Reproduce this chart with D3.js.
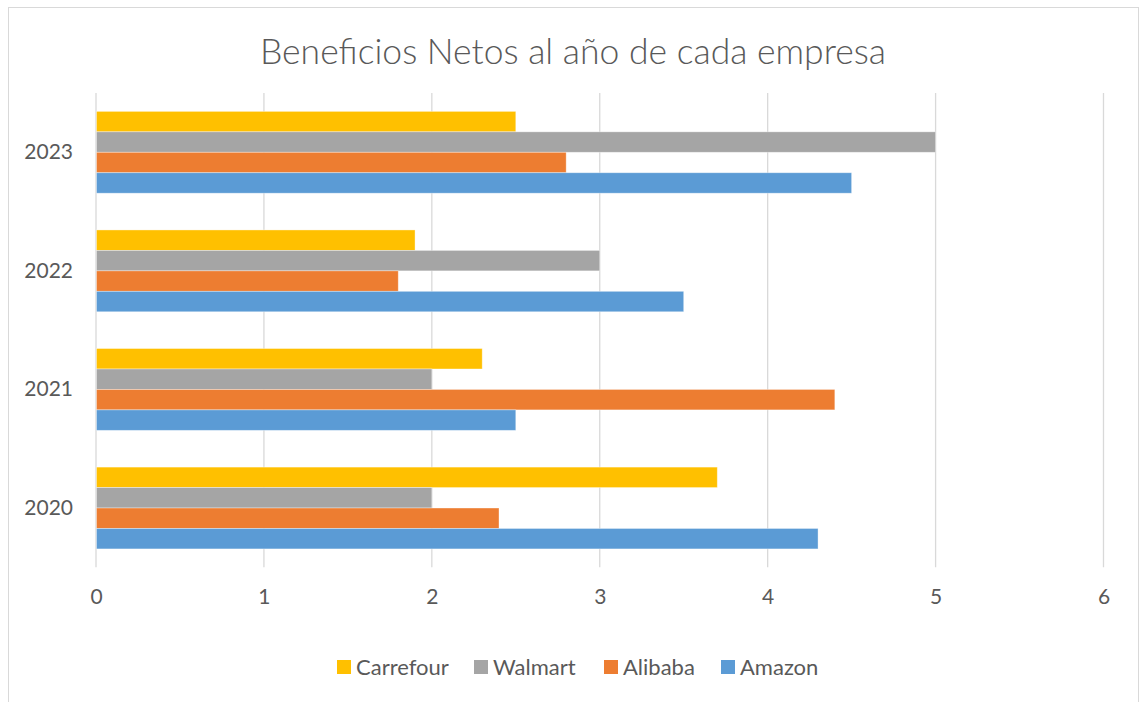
<!DOCTYPE html>
<html><head><meta charset="utf-8">
<script src="https://cdn.jsdelivr.net/npm/d3@7"></script>
<style>html,body{margin:0;padding:0;background:#fff;overflow:hidden}text{font-family:Lato,"Open Sans",sans-serif;fill:#595959}</style>
</head><body><svg id="c" width="1141" height="702"></svg>
<script>
const years = ["2020", "2021", "2022", "2023"];
const seriesNames = ["Amazon", "Alibaba", "Walmart", "Carrefour"];
const amazon = [4.3, 2.5, 3.5, 4.5];
const alibaba = [2.4, 4.4, 1.8, 2.8];
const walmart = [2.0, 2.0, 3.0, 5.0];
const carrefour = [3.7, 2.3, 1.9, 2.5];
const xTicks = [0, 1, 2, 3, 4, 5, 6];
const colors = {Amazon: "#5B9BD5", Alibaba: "#ED7D31", Walmart: "#A5A5A5", Carrefour: "#FFC000"};
const legendOrder = ["Carrefour", "Walmart", "Alibaba", "Amazon"];
const values = {Amazon: amazon, Alibaba: alibaba, Walmart: walmart, Carrefour: carrefour};

const svg = d3.select("#c");
svg.append("rect").attr("x", 8.5).attr("y", 7.5).attr("width", 1130).attr("height", 720)
  .attr("fill", "#fff").attr("stroke", "#d9d9d9").attr("stroke-width", 1);

const x = d3.scaleLinear().domain([0, 6]).range([96, 1103.5]);
const y = d3.scaleBand().domain(years.slice().reverse()).range([93, 567.3]).paddingInner(0.31).paddingOuter(0.155);
const inner = d3.scaleBand().domain(legendOrder).range([0, y.bandwidth()]);

// gridlines
svg.append("g").selectAll("line").data(xTicks).join("line")
  .attr("x1", d => x(d)).attr("x2", d => x(d)).attr("y1", 93).attr("y2", 567.3)
  .attr("stroke", "#d9d9d9").attr("stroke-width", 1.3);

// bars
const groups = svg.append("g").selectAll("g").data(years).join("g")
  .attr("transform", d => `translate(0,${y(d)})`);
groups.selectAll("rect").data((yr, i) => legendOrder.map(s => ({s, v: values[s][i]}))).join("rect")
  .attr("x", x(0) + 0.5).attr("y", d => inner(d.s)).attr("height", inner.bandwidth())
  .attr("width", d => x(d.v) - x(0) - 0.5).attr("fill", d => colors[d.s])
  .attr("stroke", "rgba(255,255,255,0.45)").attr("stroke-width", 0.8);

// x axis labels
const xa = svg.append("g").attr("transform", "translate(0,567.3)")
  .call(d3.axisBottom(x).tickValues(xTicks).tickSize(0).tickPadding(22).tickFormat(d3.format("d")));
xa.select(".domain").remove();
xa.selectAll("text").attr("font-size", 21).attr("fill", "#595959").style("font-family", "Lato, sans-serif");

// y axis labels
const ya = svg.append("g").attr("transform", "translate(73,0)")
  .call(d3.axisLeft(y).tickSize(0).tickPadding(0));
ya.select(".domain").remove();
ya.selectAll("text").attr("font-size", 21).attr("fill", "#595959").style("font-family", "Lato, sans-serif");

// title
svg.append("text").attr("x", 573).attr("y", 64).attr("text-anchor", "middle")
  .attr("font-size", 35.5).style("font-weight", 300).text("Beneficios Netos al año de cada empresa");

// legend
const legX = [337, 474, 604, 721];
const lg = svg.append("g").selectAll("g").data(legendOrder).join("g")
  .attr("transform", (d, i) => `translate(${legX[i]},660)`);
lg.append("rect").attr("width", 14).attr("height", 14).attr("fill", d => colors[d]);
lg.append("text").attr("x", 19).attr("y", 15).attr("font-size", 22).text(d => d);
</script></body></html>
